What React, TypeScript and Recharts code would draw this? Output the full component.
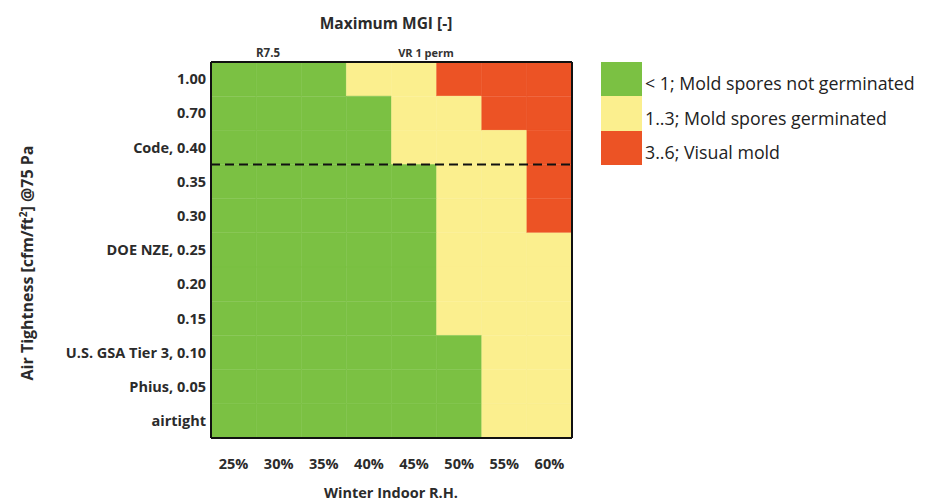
import React from "react";
import {
  BarChart,
  Bar,
  XAxis,
  YAxis,
  Cell,
  ReferenceLine,
} from "recharts";

const rhLabels = ["25%", "30%", "35%", "40%", "45%", "50%", "55%", "60%"];

const tightnessLabels = [
  "1.00",
  "0.70",
  "Code, 0.40",
  "0.35",
  "0.30",
  "DOE NZE, 0.25",
  "0.20",
  "0.15",
  "U.S. GSA Tier 3, 0.10",
  "Phius, 0.05",
  "airtight",
];

// MGI class per cell, rows top -> bottom, columns 25% -> 60%
// 0 = < 1, 1 = 1..3, 2 = 3..6
const mgiClass = [
  [0, 0, 0, 1, 1, 2, 2, 2],
  [0, 0, 0, 0, 1, 1, 2, 2],
  [0, 0, 0, 0, 1, 1, 1, 2],
  [0, 0, 0, 0, 0, 1, 1, 2],
  [0, 0, 0, 0, 0, 1, 1, 2],
  [0, 0, 0, 0, 0, 1, 1, 1],
  [0, 0, 0, 0, 0, 1, 1, 1],
  [0, 0, 0, 0, 0, 1, 1, 1],
  [0, 0, 0, 0, 0, 0, 1, 1],
  [0, 0, 0, 0, 0, 0, 1, 1],
  [0, 0, 0, 0, 0, 0, 1, 1],
];

const classColors = ["#7bc143", "#fbef8e", "#ec5325"];
const classNames = [
  "< 1; Mold spores not germinated",
  "1..3; Mold spores germinated",
  "3..6; Visual mold",
];

// dashed line sits under this row
const dashedUnder = "Code, 0.40";

const data = tightnessLabels.map((name) => {
  const row: Record<string, any> = { name };
  rhLabels.forEach((_, j) => (row[`c${j}`] = 1));
  return row;
});

const xTicks = rhLabels.map((_, j) => j + 0.5);

const font = "'Open Sans', 'Liberation Sans', sans-serif";

export default function App() {
  return (
    <div style={{ position: "relative", width: 920, height: 494, fontFamily: font, background: "#fff" }}>
      <BarChart
        width={920}
        height={494}
        data={data}
        layout="vertical"
        barCategoryGap={0}
        margin={{ top: 54, right: 356, left: 0, bottom: 24 }}
      >
        <XAxis
          type="number"
          domain={[0, 8]}
          ticks={xTicks}
          tickFormatter={(v) => rhLabels[Math.floor(v)]}
          axisLine={false}
          tickLine={false}
          tickSize={0}
          tickMargin={21}
          height={40}
          tick={{ fill: "#2b2b2b", fontSize: 14.5, fontWeight: 700, fontFamily: font }}
        />
        <YAxis
          type="category"
          dataKey="name"
          width={203}
          axisLine={false}
          tickLine={false}
          tickSize={0}
          tickMargin={5}
          tick={{ fill: "#2b2b2b", fontSize: 14.5, fontWeight: 700, fontFamily: font }}
        />
        {rhLabels.map((rh, j) => (
          <Bar key={rh} dataKey={`c${j}`} stackId="g" isAnimationActive={false}>
            {data.map((_, i) => (
              <Cell
                key={i}
                fill={classColors[mgiClass[i][j]]}
                stroke={classColors[mgiClass[i][j]]}
                strokeWidth={0.5}
              />
            ))}
          </Bar>
        ))}
        <ReferenceLine
          y={dashedUnder}
          position="end"
          stroke="#111"
          strokeWidth={2}
          strokeDasharray="9 5"
        />
        {/* plot frame */}
        <ReferenceLine y={tightnessLabels[0]} position="start" stroke="#111" strokeWidth={2} />
        <ReferenceLine y={tightnessLabels[tightnessLabels.length - 1]} position="end" stroke="#111" strokeWidth={2} />
        <ReferenceLine x={0} stroke="#111" strokeWidth={2} />
        <ReferenceLine x={rhLabels.length} stroke="#111" strokeWidth={2} />
      </BarChart>

      <div style={{ position: "absolute", left: 378, top: 15, transform: "translate(-50%, -50%)", fontSize: 15.5, fontWeight: 700, color: "#2b2b2b", whiteSpace: "nowrap" }}>
        Maximum MGI [-]
      </div>
      <div style={{ position: "absolute", left: 260, top: 44, transform: "translate(-50%, -50%)", fontSize: 11.5, fontWeight: 700, color: "#333", whiteSpace: "nowrap" }}>
        R7.5
      </div>
      <div style={{ position: "absolute", left: 418, top: 44, transform: "translate(-50%, -50%)", fontSize: 11, fontWeight: 700, color: "#333", whiteSpace: "nowrap" }}>
        VR 1 perm
      </div>
      <div style={{ position: "absolute", left: 383, top: 484, transform: "translate(-50%, -50%)", fontSize: 14.5, fontWeight: 700, color: "#2b2b2b", whiteSpace: "nowrap" }}>
        Winter Indoor R.H.
      </div>
      <div style={{ position: "absolute", left: 19, top: 255, transform: "translate(-50%, -50%) rotate(-90deg)", fontSize: 16, fontWeight: 700, color: "#2b2b2b", whiteSpace: "nowrap" }}>
        Air Tightness [cfm/ft<sup style={{ fontSize: 10 }}>2</sup>] @75 Pa
      </div>

      <div style={{ position: "absolute", left: 593, top: 54 }}>
        {classNames.map((n, k) => (
          <div key={n} style={{ display: "flex", alignItems: "flex-end", height: 34.3 }}>
            <div style={{ width: 41, height: 34.3, background: classColors[k] }} />
            <div style={{ marginLeft: 3, fontSize: 17.8, color: "#222", whiteSpace: "nowrap", lineHeight: "24px", paddingBottom: 1 }}>
              {n}
            </div>
          </div>
        ))}
      </div>
    </div>
  );
}
